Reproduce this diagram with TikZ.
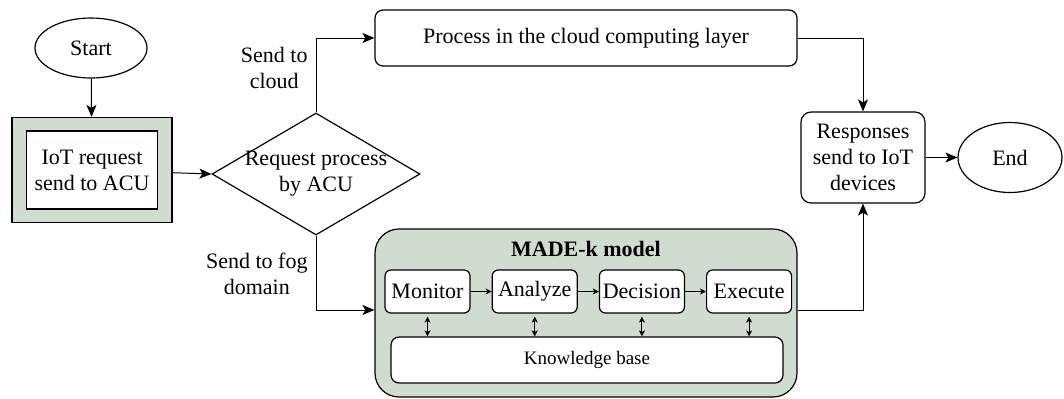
\documentclass[tikz,border=0pt]{standalone}
\usepackage{fontspec}
\setmainfont{Liberation Serif}
\usepackage{xcolor}
\usepackage{tikz}
\usetikzlibrary{shapes, arrows.meta, positioning, calc}
\definecolor{sage}{RGB}{207,220,207}
\tikzset{
    terminal/.style={
        ellipse,
        draw=black,
        line width=0.6pt,
        inner sep=0pt,
    },
    box/.style={
        rectangle,
        rounded corners=4pt,
        draw=black,
        fill=white,
        line width=0.6pt,
        align=center,
        inner sep=1pt,
    },
    decision/.style={
        diamond,
        draw=black,
        line width=0.6pt,
        inner sep=0pt,
        minimum width=104pt,
        minimum height=61pt,
    },
    stepbox/.style={
        box,
        rounded corners=3pt,
        minimum width=42.5pt,
        minimum height=21.5pt,
    },
    flow/.style={
        line width=0.5pt,
        -{Stealth[length=6pt,width=5pt,inset=1.5pt]},
    },
    tiny/.style={
        line width=0.45pt,
        -{Stealth[length=3pt,width=3pt,inset=0.8pt]},
    },
}

\begin{document}
\begin{tikzpicture}[x=0.5pt, y=-0.5pt, font=\fontsize{11}{13}\selectfont]
      \useasboundingbox (0,0) rectangle (1064,398);

      \node [terminal, minimum width=56pt, minimum height=30pt] (Start) at (91,48) {Start};
      \node [rectangle, draw, line width=0.6pt, fill=sage, minimum width=80pt, minimum height=52.5pt] (IoT) at (92,170) {};
      \node [rectangle, draw, line width=0.6pt, fill=white, align=center, minimum width=65.5pt, minimum height=39pt] (IoTIn) at (IoT.center) {IoT request\\send to ACU};

      \node [decision] (Decide) at (316,174) {};
      \node [align=center] (DecideText) at (Decide.center) {Request process\\by ACU};

      \node [box, minimum width=211pt, minimum height=28pt] (Cloud) at (586,38) {Process in the cloud computing layer};
      \node [box, rounded corners=5pt, minimum width=62pt, minimum height=45.5pt] (Respond) at (863,157.5) {Responses\\send to IoT\\devices};
      \node [terminal, minimum width=52pt, minimum height=35pt] (End) at (1010,157.5) {End};

      % MADE-k block
      \node [box, fill=sage, rounded corners=12pt, minimum width=211pt, minimum height=84pt] (Made) at (586,313) {};
      \node [font=\fontsize{11}{13}\selectfont\bfseries] (MadeTitle) at (586,249) {MADE-k model};
      \node [stepbox] (Monitor) at (427.5,291.5) {Monitor};
      \node [stepbox] (Analyze) [right=10.5pt of Monitor] {Analyze};
      \node [stepbox] (Decision) [right=10.5pt of Analyze] {Decision};
      \node [stepbox] (Execute) [right=10.5pt of Decision] {Execute};
      \node [box, minimum width=196pt, minimum height=23pt, font=\fontsize{9.5}{11}\selectfont] (KB) at (587,360) {Knowledge base};

      \draw [tiny] (Monitor) -- (Analyze);
      \draw [tiny] (Analyze) -- (Decision);
      \draw [tiny] (Decision) -- (Execute);
      \foreach \s in {Monitor, Analyze, Decision, Execute}
        \draw [line width=0.45pt, {Stealth[length=3pt,width=3pt,inset=0.8pt]}-{Stealth[length=3pt,width=3pt,inset=0.8pt]}]
          ([yshift=-1.5pt]\s.south) -- (\s.south |- KB.north);

      % main flow
      \draw [flow] (Start) -- (IoT);
      \draw [flow] (IoT) -- (Decide.west);
      \draw [flow] (Decide.north) |- (Cloud.west)
          node [pos=0.3, left, align=center, inner sep=4pt] {Send to\\cloud};
      \draw [flow] (Decide.south) |- ([yshift=1.5pt]Made.west)
          node [pos=0.26, left, align=center, inner sep=4pt] {Send to fog\\domain};
      \draw [flow] (Cloud.east) -| (Respond.north);
      \draw [flow] ([yshift=1.5pt]Made.east) -| (Respond.south);
      \draw [flow] (Respond) -- (End);
    \end{tikzpicture}
\end{document}
